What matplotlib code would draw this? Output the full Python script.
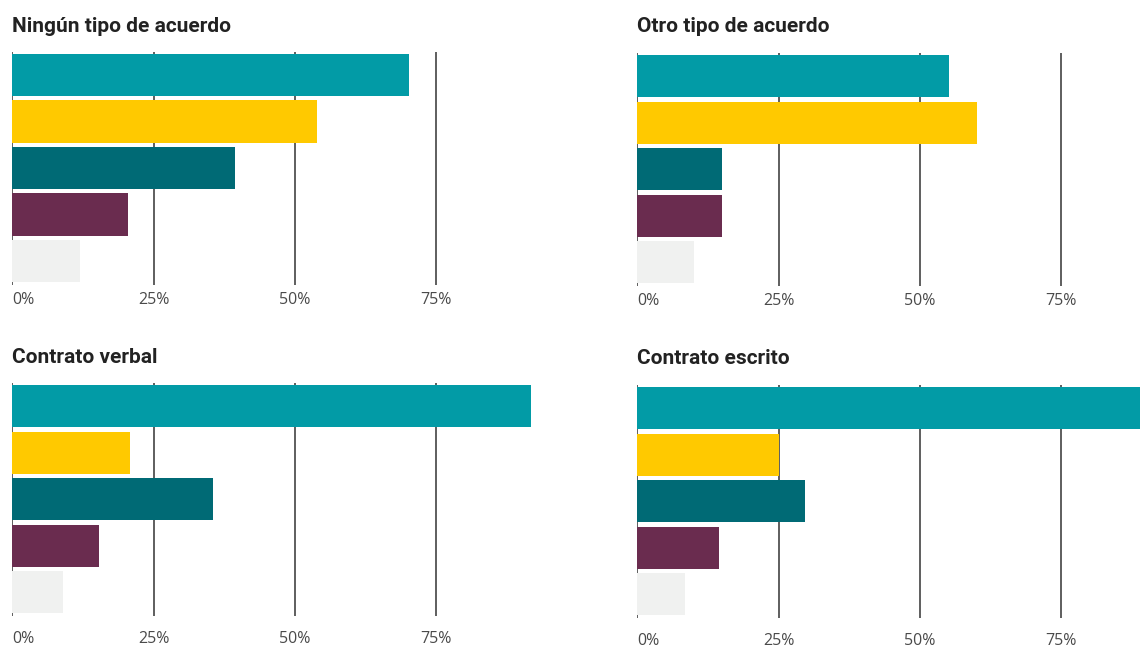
import matplotlib
matplotlib.use("Agg")
from matplotlib import pyplot as plt

# panel titles and the five bar values (percent) of each panel, top to bottom
titles = ["Ningún tipo de acuerdo", "Otro tipo de acuerdo", "Contrato verbal", "Contrato escrito"]
ningun = [70.2, 53.9, 39.4, 20.5, 12.0]
otro = [55.1, 60.0, 15.0, 15.0, 10.0]
verbal = [91.8, 20.9, 35.5, 15.4, 9.0]
escrito = [93.0, 25.1, 29.6, 14.4, 8.5]
tick_values = [0, 25, 50, 75]
tick_labels = ["0%", "25%", "50%", "75%"]

colors = ['#029ba6', '#ffc900', '#006a75', '#6a2c4f', '#f0f1f0']

W, H = 1140, 647
fig = plt.figure(figsize=(W / 100, H / 100), dpi=100)

# (left px, top px, bottom px, tick label pad, title baseline px)
boxes = [
    (12.3, 51.5, 284.5, 5.5, 31.5),
    (637.3, 53, 285.5, 5.5, 31.5),
    (12.3, 383, 615.5, 11, 363),
    (637.3, 385, 617.5, 11.5, 364),
]
panels = [ningun, otro, verbal, escrito]
axw = 565.5  # pixels for 0..100%

for (left, top, bottom, pad, ty), title, vals in zip(boxes, titles, panels):
    ax = fig.add_axes([left / W, 1 - bottom / H, axw / W, (bottom - top) / H])
    ypos = list(range(len(vals)))
    ax.barh(ypos, vals, height=0.91, color=colors, zorder=2)
    for x in tick_values:
        ax.axvline(x, color='#333333', lw=1.1, zorder=1)
    ax.set_xlim(0, 100)
    ax.set_ylim(4.5, -0.5)
    ax.set_yticks([])
    ax.set_xticks(tick_values)
    ax.set_xticklabels(tick_labels, fontsize=11.5, color='#4a4a4a', family=['Open Sans', 'DejaVu Sans'])
    ax.get_xticklabels()[0].set_ha('left')
    ax.tick_params(axis='x', length=0, pad=pad)
    for s in ax.spines.values():
        s.set_visible(False)
    fig.text(left / W, 1 - ty / H, title, fontsize=15, fontweight='bold', color='#222222',
             family=['Roboto', 'DejaVu Sans'], va='baseline', ha='left')

fig.savefig('out.png', dpi=100)
